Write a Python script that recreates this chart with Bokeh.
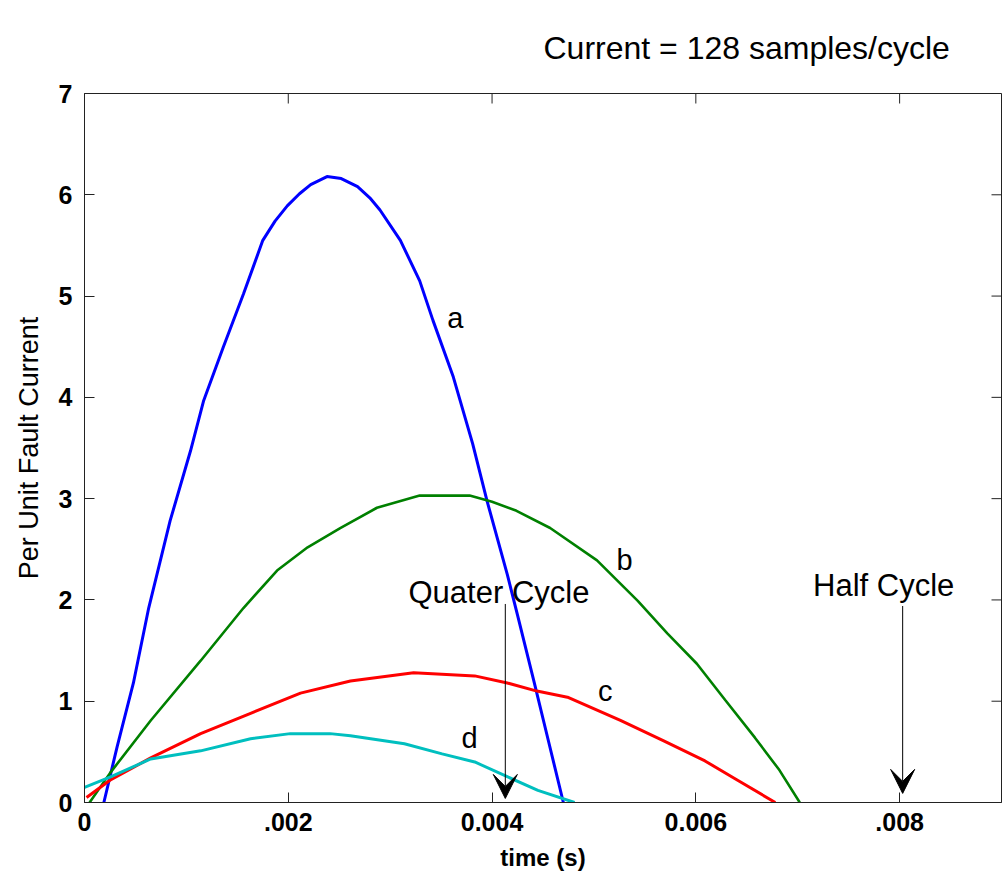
import math
from bokeh.plotting import figure
from bokeh.models import Range1d, FixedTicker, Label, Arrow, VeeHead
from bokeh.embed import file_html
from bokeh.resources import INLINE

# ---- data (time in s, per-unit fault current) ----
a_t = [0.00019, 0.00032, 0.00048, 0.00063, 0.00084, 0.00104, 0.00117, 0.00136, 0.00156,
       0.00175, 0.00187, 0.00199, 0.00211, 0.00222, 0.00238, 0.00252, 0.00268, 0.00280,
       0.00290, 0.00310, 0.00329, 0.00342, 0.00362, 0.00381, 0.00395, 0.00415, 0.00425,
       0.00441, 0.00456, 0.00470]
a_v = [0.0, 0.55, 1.18, 1.92, 2.78, 3.47, 3.97, 4.49, 5.02,
       5.55, 5.74, 5.89, 6.01, 6.10, 6.18, 6.16, 6.08, 5.97,
       5.85, 5.55, 5.15, 4.76, 4.20, 3.54, 2.98, 2.25, 1.85,
       1.20, 0.58, 0.0]

b_t = [0.00005, 0.00025, 0.00065, 0.00114, 0.00156, 0.00189, 0.00219, 0.00251, 0.00287,
       0.00329, 0.00378, 0.00400, 0.00424, 0.00457, 0.00503, 0.00543, 0.00572, 0.00601,
       0.00629, 0.00658, 0.00682, 0.00702]
b_v = [0.0, 0.29, 0.81, 1.40, 1.92, 2.29, 2.52, 2.71, 2.91,
       3.03, 3.03, 2.97, 2.88, 2.71, 2.39, 1.99, 1.67, 1.37,
       1.01, 0.64, 0.32, 0.0]

c_t = [0.00002, 0.00025, 0.00065, 0.00114, 0.00163, 0.00212, 0.00261, 0.00323, 0.00383,
       0.00415, 0.00444, 0.00474, 0.00526, 0.00568, 0.00609, 0.00641, 0.00678]
c_v = [0.05, 0.22, 0.44, 0.68, 0.88, 1.08, 1.20, 1.28, 1.25,
       1.18, 1.10, 1.04, 0.81, 0.61, 0.41, 0.22, 0.0]

d_t = [0.0, 0.00025, 0.00065, 0.00114, 0.00163, 0.00202, 0.00241, 0.00261, 0.00314,
       0.00351, 0.00383, 0.00416, 0.00445, 0.00481]
d_v = [0.15, 0.25, 0.43, 0.51, 0.63, 0.68, 0.68, 0.66, 0.58,
       0.48, 0.40, 0.25, 0.12, 0.0]

x_ticks = [0.0, 0.002, 0.004, 0.006, 0.008]
x_tick_labels = ["0", ".002", "0.004", "0.006", ".008"]
y_ticks = [0, 1, 2, 3, 4, 5, 6, 7]
x_max = 0.009
y_max = 7

title_text = "Current = 128 samples/cycle"

curve_labels = ["a", "b", "c", "d"]
curve_label_t = [0.00364, 0.00530, 0.00511, 0.00378]
curve_label_v = [4.78, 2.39, 1.10, 0.64]

arrow_texts = ["Quater Cycle", "Half Cycle"]
arrow_text_t = [0.00318, 0.00715]
arrow_text_v = [2.07, 2.14]
arrow_t = [0.00413, 0.00803]
arrow_top_v = [1.96, 1.94]
arrow_tip_v = [0.04, 0.09]

FONT = "Liberation Sans"
AXC = "#222222"

p = figure(width=1004, height=873, output_backend="svg", toolbar_location=None,
           x_range=Range1d(0, x_max), y_range=Range1d(0, y_max),
           min_border_left=84, min_border_right=3, min_border_top=93, min_border_bottom=71,
           background_fill_color="white", border_fill_color="white")
p.grid.visible = False
p.outline_line_color = AXC

p.title.text = title_text
p.title.text_font = FONT
p.title.text_font_size = "32px"
p.title.text_font_style = "normal"
p.title.text_color = "black"
p.title.align = "left"
p.title.vertical_align = "top"
p.title.offset = 459
p.title.standoff = 52

xa = p.xaxis[0]
xa.ticker = FixedTicker(ticks=x_ticks)
xa.major_label_overrides = {t: l for t, l in zip(x_ticks, x_tick_labels)}
xa.axis_label = "time (s)"
ya = p.yaxis[0]
ya.ticker = FixedTicker(ticks=y_ticks)
ya.axis_label = "Per Unit Fault Current"

for ax in (xa, ya):
    ax.major_tick_in = 10
    ax.major_tick_out = 0
    ax.minor_tick_line_color = None
    ax.axis_line_color = AXC
    ax.major_tick_line_color = AXC
    ax.major_label_text_font = FONT
    ax.major_label_text_font_size = "25px"
    ax.major_label_text_font_style = "bold"
    ax.major_label_text_color = "black"
    ax.axis_label_text_font = FONT
    ax.axis_label_text_color = "black"
xa.axis_label_text_font_style = "bold"
xa.axis_label_text_font_size = "24px"
ya.axis_label_text_font_style = "normal"
ya.axis_label_text_font_size = "27px"
xa.major_label_standoff = 10
xa.axis_label_standoff = 10
ya.major_label_standoff = 12
ya.axis_label_standoff = 12

# mirrored inward ticks on the top and right edges (MATLAB box style)
p.ray(x=x_ticks, y=[y_max] * len(x_ticks), length=10, length_units="screen",
      angle=-math.pi / 2, line_color=AXC, line_width=1)
p.ray(x=[x_max] * len(y_ticks), y=y_ticks, length=10, length_units="screen",
      angle=math.pi, line_color=AXC, line_width=1)

p.line(a_t, a_v, line_color="#0000FF", line_width=3)
p.line(b_t, b_v, line_color="#008000", line_width=2.6)
p.line(c_t, c_v, line_color="#FF0000", line_width=3)
p.line(d_t, d_v, line_color="#00BFBF", line_width=3)

for txt, t, v in zip(curve_labels, curve_label_t, curve_label_v):
    p.add_layout(Label(x=t, y=v, text=txt, text_font=FONT, text_font_size="29px",
                       text_align="center", text_baseline="middle", text_color="black"))

for txt, t, v in zip(arrow_texts, arrow_text_t, arrow_text_v):
    p.add_layout(Label(x=t, y=v, text=txt, text_font=FONT, text_font_size="31px",
                       text_align="left", text_baseline="middle", text_color="black"))

for t, v0, v1 in zip(arrow_t, arrow_top_v, arrow_tip_v):
    p.add_layout(Arrow(x_start=t, y_start=v0, x_end=t, y_end=v1,
                       line_color="black", line_width=1,
                       end=VeeHead(size=24, fill_color="black", line_color="black",
                                   line_width=1)))

open("out.html", "w").write(file_html(p, INLINE))
